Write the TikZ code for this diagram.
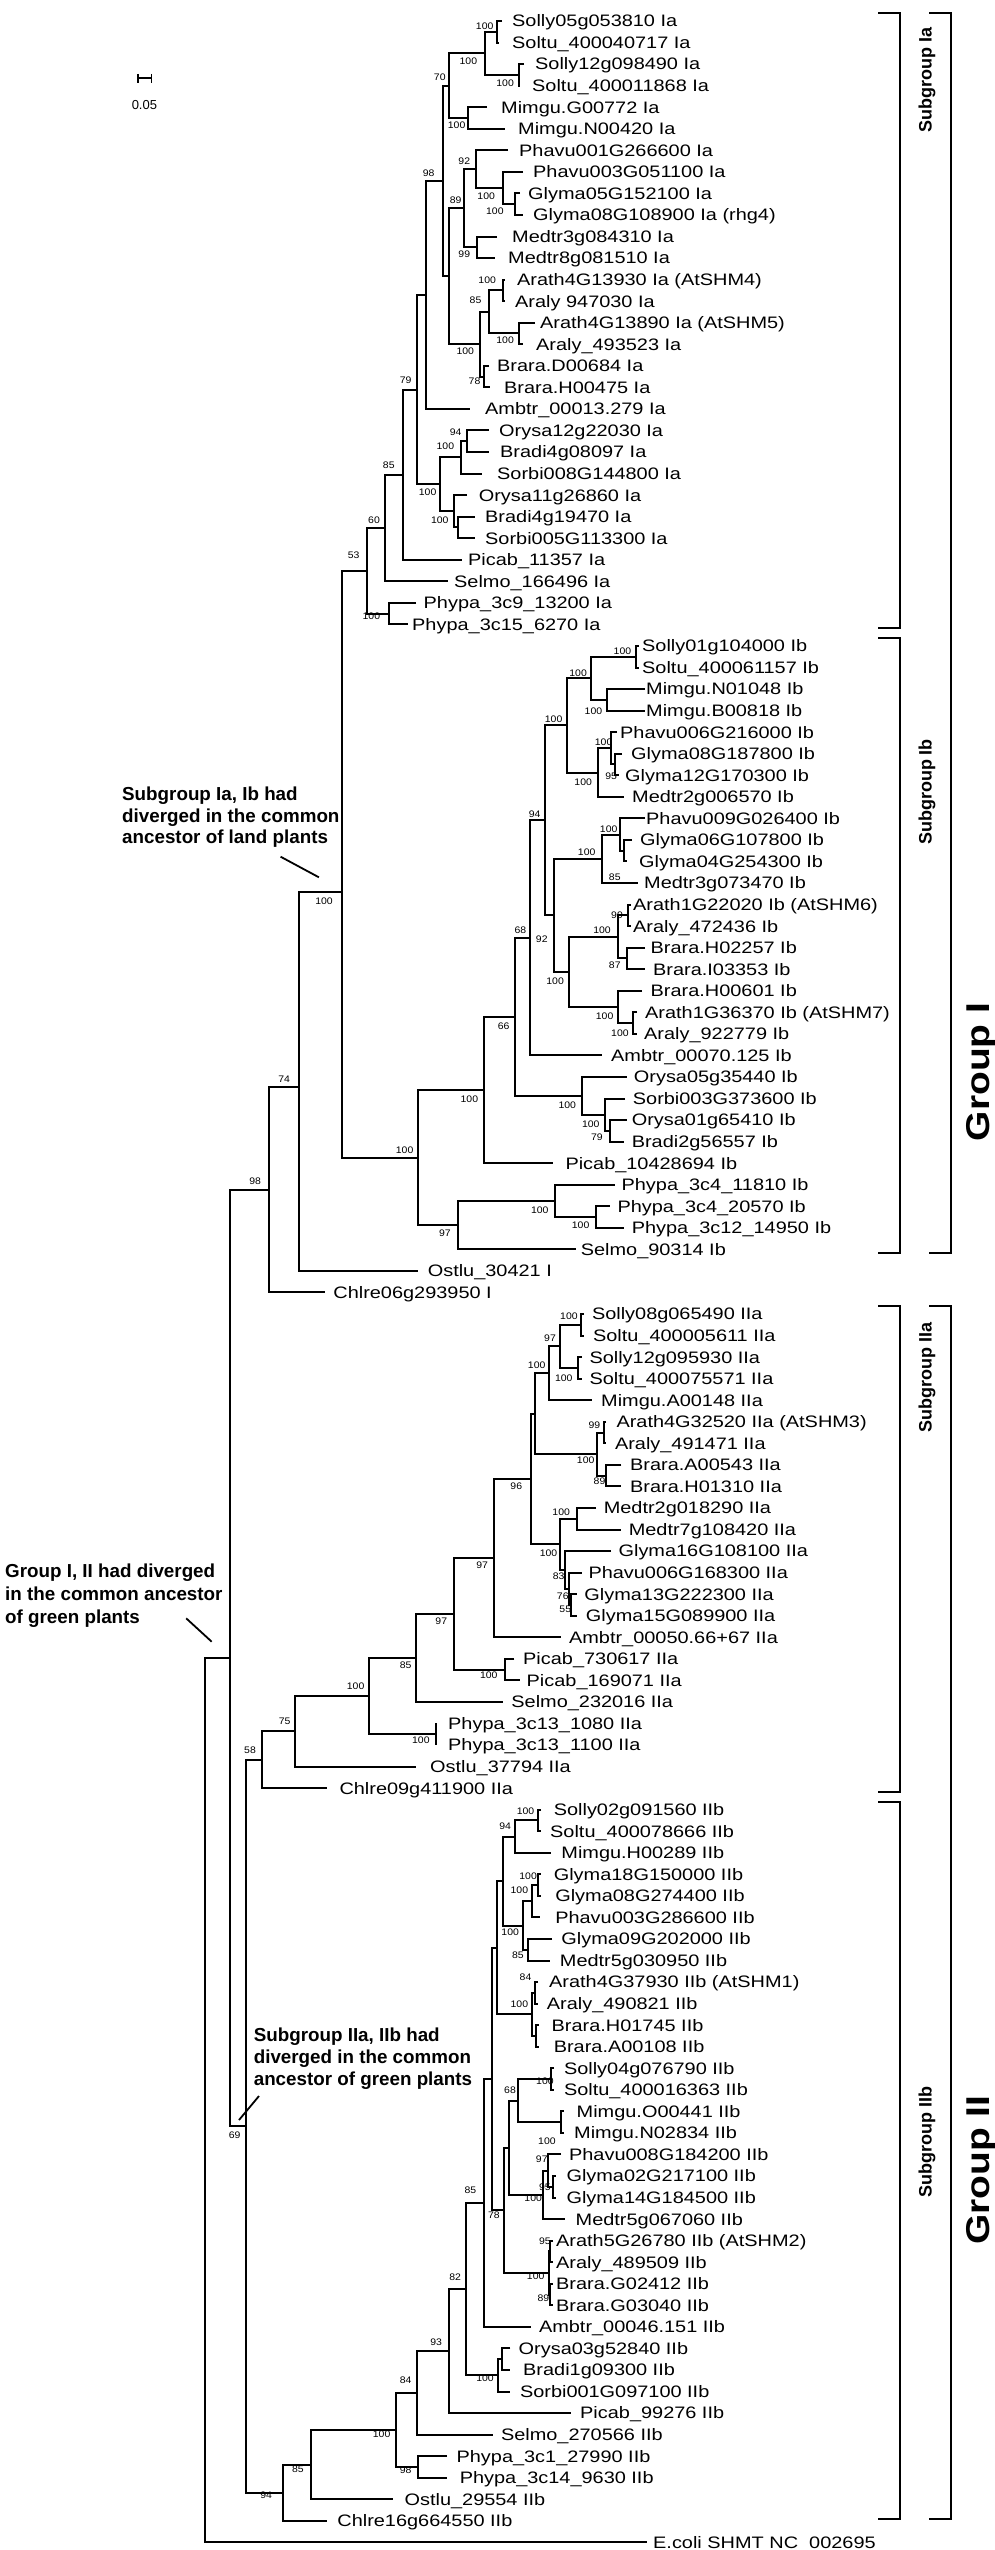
\documentclass[tikz,border=0pt]{standalone}
\usepackage{fontspec}
\setmainfont{Liberation Sans}
\newfontfamily\taxonfont{Liberation Sans}[FakeStretch=1.2]
\newfontfamily\bootfont{Liberation Sans}[FakeStretch=1.1]
\newfontfamily\groupfont{Liberation Sans}[FakeStretch=1.18]
\usetikzlibrary{calc}

\newcommand{\leafy}[1]{21+(#1-1)*21.55}
\newcommand{\addleaf}[5]{%
  \coordinate (#1) at (#3,{\leafy{#2}});
  \node[taxon] (#1t) at (#4,{\leafy{#2}}) {#5};}
\newcommand{\addclade}[4]{%
  \path let \p1=($(#3)!0.5!(#4)$) in coordinate (#1) at (#2pt,\y1);
  \draw[branch] (#3) -- (#3 -| #1) -- (#4 -| #1) -- (#4);}
\newcommand{\addcladeat}[5]{%
  \coordinate (#1) at (#2,#3);
  \draw[branch] (#4) -- (#4 -| #1) -- (#5 -| #1) -- (#5);}
\newcounter{bootno}
\newcommand{\bsv}[3]{\stepcounter{bootno}%
  \node[bootval] (b\arabic{bootno}) at (#1,#2) {#3};}

\begin{document}
\begin{tikzpicture}[%
    x=1pt, y=-1pt,
    branch/.style = {line width=2pt, line join=miter},
    taxon/.style = {anchor=base west, inner sep=0pt, yshift=-5.9pt, font=\taxonfont\fontsize{16.6}{18}\selectfont},
    bootval/.style = {inner sep=0pt, font=\bootfont\fontsize{9.5}{10}\selectfont},
    note/.style = {anchor=north west, inner sep=0pt, align=left, font=\bfseries\fontsize{18.8}{21.8}\selectfont},
    pointer/.style = {line width=1.8pt},
    brk/.style = {line width=2pt},
    sublabel/.style = {rotate=90, inner sep=0pt, font=\bfseries\fontsize{18}{19}\selectfont},
    grouplabel/.style = {rotate=90, inner sep=0pt, font=\groupfont\bfseries\fontsize{33}{35}\selectfont}%
  ]
  \useasboundingbox (0,0) rectangle (994,2550);
  \fill[white] (0,0) rectangle (994,2550);

  % scale bar
  \draw[branch] (137.8,78.3) -- (151.5,78.3);
  \draw[line width=1.4pt] (137.8,74) -- (137.8,82.7) (151.5,74) -- (151.5,82.7);
  \node[inner sep=0pt, font=\fontsize{13}{14}\selectfont] (scaletext) at (144.4,105) {0.05};

  % subgroup Ia
  \addleaf{l1}{1}{502}{512}{Solly05g053810 Ia}
  \addleaf{l2}{2}{499}{512}{Soltu\_400040717 Ia}
  \addclade{c1}{497}{l1}{l2}
  \addleaf{l3}{3}{524}{535}{Solly12g098490 Ia}
  \addleaf{l4}{4}{520}{532}{Soltu\_400011868 Ia}
  \addclade{c2}{519}{l3}{l4}
  \addclade{c3}{485}{c1}{c2}
  \addleaf{l5}{5}{487}{501}{Mimgu.G00772 Ia}
  \addleaf{l6}{6}{505}{518}{Mimgu.N00420 Ia}
  \addclade{c4}{468}{l5}{l6}
  \addclade{c5}{449}{c3}{c4}
  \addleaf{l7}{7}{508}{519}{Phavu001G266600 Ia}
  \addleaf{l8}{8}{523}{533}{Phavu003G051100 Ia}
  \addleaf{l9}{9}{520}{528}{Glyma05G152100 Ia}
  \addleaf{l10}{10}{523}{533}{Glyma08G108900 Ia (rhg4)}
  \addclade{c6}{515}{l9}{l10}
  \addclade{c7}{503}{l8}{c6}
  \addclade{c8}{476}{l7}{c7}
  \addleaf{l11}{11}{497}{512}{Medtr3g084310 Ia}
  \addleaf{l12}{12}{495}{508}{Medtr8g081510 Ia}
  \addclade{c9}{477}{l11}{l12}
  \addclade{c10}{464}{c8}{c9}
  \addleaf{l13}{13}{505}{517}{Arath4G13930 Ia (AtSHM4)}
  \addleaf{l14}{14}{505}{515}{Araly 947030 Ia}
  \addclade{c11}{502.5}{l13}{l14}
  \addleaf{l15}{15}{535}{540}{Arath4G13890 Ia (AtSHM5)}
  \addleaf{l16}{16}{523}{536}{Araly\_493523 Ia}
  \addclade{c12}{519}{l15}{l16}
  \addclade{c13}{489}{c11}{c12}
  \addleaf{l17}{17}{489}{497}{Brara.D00684 Ia}
  \addleaf{l18}{18}{490}{504}{Brara.H00475 Ia}
  \addclade{c14}{484}{l17}{l18}
  \addclade{c15}{480}{c13}{c14}
  \addclade{c16}{449}{c10}{c15}
  \addclade{c17}{443}{c5}{c16}
  \addleaf{l19}{19}{470}{485}{Ambtr\_00013.279 Ia}
  \addclade{c18}{426}{c17}{l19}
  \addleaf{l20}{20}{489}{499}{Orysa12g22030 Ia}
  \addleaf{l21}{21}{489}{500}{Bradi4g08097 Ia}
  \addclade{c19}{467}{l20}{l21}
  \addleaf{l22}{22}{482}{497}{Sorbi008G144800 Ia}
  \addclade{c20}{461}{c19}{l22}
  \addleaf{l23}{23}{467}{478.6}{Orysa11g26860 Ia}
  \addleaf{l24}{24}{474.5}{485}{Bradi4g19470 Ia}
  \addleaf{l25}{25}{474.5}{485}{Sorbi005G113300 Ia}
  \addclade{c21}{458}{l24}{l25}
  \addclade{c22}{454}{l23}{c21}
  \addclade{c23}{440}{c20}{c22}
  \addclade{c24}{417}{c18}{c23}
  \addleaf{l26}{26}{462}{468}{Picab\_11357 Ia}
  \addclade{c25}{403}{c24}{l26}
  \addleaf{l27}{27}{448}{454}{Selmo\_166496 Ia}
  \addclade{c26}{385}{c25}{l27}
  \addleaf{l28}{28}{416}{423.5}{Phypa\_3c9\_13200 Ia}
  \addleaf{l29}{29}{408}{412}{Phypa\_3c15\_6270 Ia}
  \addclade{c27}{389}{l28}{l29}
  \addclade{c28}{367}{c26}{c27}

  % subgroup Ib
  \addleaf{l30}{30}{639}{642}{Solly01g104000 Ib}
  \addleaf{l31}{31}{639}{642}{Soltu\_400061157 Ib}
  \addclade{c29}{636}{l30}{l31}
  \addleaf{l32}{32}{645}{646}{Mimgu.N01048 Ib}
  \addleaf{l33}{33}{645}{646}{Mimgu.B00818 Ib}
  \addclade{c30}{607}{l32}{l33}
  \addclade{c31}{591}{c29}{c30}
  \addleaf{l34}{34}{617}{620}{Phavu006G216000 Ib}
  \addleaf{l35}{35}{622}{631}{Glyma08G187800 Ib}
  \addleaf{l36}{36}{619}{625}{Glyma12G170300 Ib}
  \addclade{c32}{615}{l35}{l36}
  \addclade{c33}{611}{l34}{c32}
  \addleaf{l37}{37}{623.5}{632}{Medtr2g006570 Ib}
  \addclade{c34}{598}{c33}{l37}
  \addclade{c35}{567}{c31}{c34}
  \addleaf{l38}{38}{645}{646}{Phavu009G026400 Ib}
  \addleaf{l39}{39}{632}{640}{Glyma06G107800 Ib}
  \addleaf{l40}{40}{627}{639}{Glyma04G254300 Ib}
  \addclade{c36}{623.5}{l39}{l40}
  \addclade{c37}{620}{l38}{c36}
  \addleaf{l41}{41}{638}{644}{Medtr3g073470 Ib}
  \addclade{c38}{602}{c37}{l41}
  \addleaf{l42}{42}{631}{633}{Arath1G22020 Ib (AtSHM6)}
  \addleaf{l43}{43}{631}{633}{Araly\_472436 Ib}
  \addclade{c39}{628}{l42}{l43}
  \addleaf{l44}{44}{645}{650.5}{Brara.H02257 Ib}
  \addleaf{l45}{45}{645}{653}{Brara.I03353 Ib}
  \addclade{c40}{626.5}{l44}{l45}
  \addclade{c41}{618}{c39}{c40}
  \addleaf{l46}{46}{642}{650.5}{Brara.H00601 Ib}
  \addleaf{l47}{47}{637}{645}{Arath1G36370 Ib (AtSHM7)}
  \addleaf{l48}{48}{637}{644}{Araly\_922779 Ib}
  \addclade{c42}{632.7}{l47}{l48}
  \addclade{c43}{618}{l46}{c42}
  \addclade{c44}{569}{c41}{c43}
  \addclade{c45}{553.6}{c38}{c44}
  \addclade{c46}{545}{c35}{c45}
  \addleaf{l49}{49}{602}{611}{Ambtr\_00070.125 Ib}
  \addclade{c47}{529.6}{c46}{l49}
  \addleaf{l50}{50}{626.5}{633.7}{Orysa05g35440 Ib}
  \addleaf{l51}{51}{625}{632.7}{Sorbi003G373600 Ib}
  \addleaf{l52}{52}{626.5}{631.6}{Orysa01g65410 Ib}
  \addleaf{l53}{53}{623.5}{631.6}{Bradi2g56557 Ib}
  \addclade{c48}{609.7}{l52}{l53}
  \addclade{c49}{604.6}{l51}{c48}
  \addclade{c50}{581.6}{l50}{c49}
  \addclade{c51}{515.3}{c47}{c50}
  \addleaf{l54}{54}{552.6}{565.3}{Picab\_10428694 Ib}
  \addclade{c52}{483.7}{c51}{l54}
  \addleaf{l55}{55}{614.8}{621.4}{Phypa\_3c4\_11810 Ib}
  \addleaf{l56}{56}{609.7}{617.3}{Phypa\_3c4\_20570 Ib}
  \addleaf{l57}{57}{623.5}{631.6}{Phypa\_3c12\_14950 Ib}
  \addclade{c53}{596}{l56}{l57}
  \addclade{c54}{555}{l55}{c53}
  \addleaf{l58}{58}{575.5}{580.6}{Selmo\_90314 Ib}
  \addclade{c55}{457.7}{c54}{l58}
  \addclade{c56}{418.4}{c52}{c55}
  \addcladeat{c57}{341.8}{892}{c28}{c56}
  \addleaf{l59}{59}{418.4}{427.6}{Ostlu\_30421 I}
  \addcladeat{c58}{298.5}{1087}{c57}{l59}
  \addleaf{l60}{60}{325}{333.2}{Chlre06g293950 I}
  \addclade{c59}{269}{c58}{l60}

  % subgroup IIa
  \addleaf{l61}{61}{584}{591.8}{Solly08g065490 IIa}
  \addleaf{l62}{62}{584}{592.9}{Soltu\_400005611 IIa}
  \addclade{c60}{580.6}{l61}{l62}
  \addleaf{l63}{63}{582}{589.3}{Solly12g095930 IIa}
  \addleaf{l64}{64}{582}{589.3}{Soltu\_400075571 IIa}
  \addclade{c61}{578}{l63}{l64}
  \addclade{c62}{560.2}{c60}{c61}
  \addleaf{l65}{65}{591.8}{601}{Mimgu.A00148 IIa}
  \addclade{c63}{548.5}{c62}{l65}
  \addleaf{l66}{66}{606}{616.3}{Arath4G32520 IIa (AtSHM3)}
  \addleaf{l67}{67}{606}{614.8}{Araly\_491471 IIa}
  \addclade{c64}{603.6}{l66}{l67}
  \addleaf{l68}{68}{621.4}{630}{Brara.A00543 IIa}
  \addleaf{l69}{69}{621.4}{630}{Brara.H01310 IIa}
  \addclade{c65}{606}{l68}{l69}
  \addclade{c66}{597}{c64}{c65}
  \addclade{c67}{534.7}{c63}{c66}
  \addleaf{l70}{70}{596}{603.6}{Medtr2g018290 IIa}
  \addleaf{l71}{71}{621.4}{628.6}{Medtr7g108420 IIa}
  \addclade{c68}{576.5}{l70}{l71}
  \addleaf{l72}{72}{611.2}{618.4}{Glyma16G108100 IIa}
  \addleaf{l73}{73}{581.6}{588.3}{Phavu006G168300 IIa}
  \addleaf{l74}{74}{576.5}{584.2}{Glyma13G222300 IIa}
  \addleaf{l75}{75}{576.5}{585.7}{Glyma15G089900 IIa}
  \addclade{c69}{571.4}{l74}{l75}
  \addclade{c70}{569.4}{l73}{c69}
  \addclade{c71}{565.3}{l72}{c70}
  \addclade{c72}{560.2}{c68}{c71}
  \addclade{c73}{530.6}{c67}{c72}
  \addleaf{l76}{76}{561.2}{568.9}{Ambtr\_00050.66+67 IIa}
  \addclade{c74}{493.9}{c73}{l76}
  \addleaf{l77}{77}{514.3}{523}{Picab\_730617 IIa}
  \addleaf{l78}{78}{520.4}{526.5}{Picab\_169071 IIa}
  \addclade{c75}{505.1}{l77}{l78}
  \addclade{c76}{454}{c74}{c75}
  \addleaf{l79}{79}{502.6}{511.2}{Selmo\_232016 IIa}
  \addclade{c77}{415.8}{c76}{l79}
  \addleaf{l80}{80}{436.2}{448}{Phypa\_3c13\_1080 IIa}
  \addleaf{l81}{81}{436.2}{448}{Phypa\_3c13\_1100 IIa}
  \addclade{c78}{436.2}{l80}{l81}
  \addclade{c79}{368.9}{c77}{c78}
  \addleaf{l82}{82}{415.8}{430}{Ostlu\_37794 IIa}
  \addclade{c80}{294.9}{c79}{l82}
  \addleaf{l83}{83}{326.5}{339.3}{Chlre09g411900 IIa}
  \addclade{c81}{261.7}{c80}{l83}

  % subgroup IIb
  \addleaf{l84}{84}{541}{553.6}{Solly02g091560 IIb}
  \addleaf{l85}{85}{541}{550}{Soltu\_400078666 IIb}
  \addclade{c82}{538.3}{l84}{l85}
  \addleaf{l86}{86}{551}{561.2}{Mimgu.H00289 IIb}
  \addclade{c83}{515.3}{c82}{l86}
  \addleaf{l87}{87}{540.8}{553.6}{Glyma18G150000 IIb}
  \addleaf{l88}{88}{540.8}{555.1}{Glyma08G274400 IIb}
  \addclade{c84}{538.3}{l87}{l88}
  \addleaf{l89}{89}{540}{555.1}{Phavu003G286600 IIb}
  \addclade{c85}{531.6}{c84}{l89}
  \addleaf{l90}{90}{552}{561.2}{Glyma09G202000 IIb}
  \addleaf{l91}{91}{550}{559.7}{Medtr5g030950 IIb}
  \addclade{c86}{528}{l90}{l91}
  \addclade{c87}{523}{c85}{c86}
  \addclade{c88}{502.6}{c83}{c87}
  \addleaf{l92}{92}{538}{549}{Arath4G37930 IIb (AtSHM1)}
  \addleaf{l93}{93}{538}{546.7}{Araly\_490821 IIb}
  \addclade{c89}{534.7}{l92}{l93}
  \addleaf{l94}{94}{539}{551.5}{Brara.H01745 IIb}
  \addleaf{l95}{95}{539}{553.6}{Brara.A00108 IIb}
  \addclade{c90}{535.7}{l94}{l95}
  \addclade{c91}{531.6}{c89}{c90}
  \addclade{c92}{497.4}{c88}{c91}
  \addleaf{l96}{96}{554}{563.8}{Solly04g076790 IIb}
  \addleaf{l97}{97}{554}{563.8}{Soltu\_400016363 IIb}
  \addclade{c93}{551}{l96}{l97}
  \addleaf{l98}{98}{563.8}{576.5}{Mimgu.O00441 IIb}
  \addleaf{l99}{99}{563.8}{574}{Mimgu.N02834 IIb}
  \addclade{c94}{561.2}{l98}{l99}
  \addclade{c95}{517.9}{c93}{c94}
  \addleaf{l100}{100}{561.2}{568.9}{Phavu008G184200 IIb}
  \addleaf{l101}{101}{555.6}{566.3}{Glyma02G217100 IIb}
  \addleaf{l102}{102}{555.6}{566.3}{Glyma14G184500 IIb}
  \addclade{c96}{552.6}{l101}{l102}
  \addclade{c97}{548}{l100}{c96}
  \addleaf{l103}{103}{565.3}{575.5}{Medtr5g067060 IIb}
  \addclade{c98}{543.4}{c97}{l103}
  \addclade{c99}{509.2}{c95}{c98}
  \addleaf{l104}{104}{553}{556}{Arath5G26780 IIb (AtSHM2)}
  \addleaf{l105}{105}{553}{556}{Araly\_489509 IIb}
  \addclade{c100}{550}{l104}{l105}
  \addleaf{l106}{106}{553}{556}{Brara.G02412 IIb}
  \addleaf{l107}{107}{553}{556}{Brara.G03040 IIb}
  \addclade{c101}{550}{l106}{l107}
  \addclade{c102}{548.5}{c100}{c101}
  \addclade{c103}{504}{c99}{c102}
  \addclade{c104}{492.3}{c92}{c103}
  \addleaf{l108}{108}{531.2}{538.8}{Ambtr\_00046.151 IIb}
  \addclade{c105}{483.7}{c104}{l108}
  \addleaf{l109}{109}{510.3}{518.5}{Orysa03g52840 IIb}
  \addleaf{l110}{110}{510.3}{523}{Bradi1g09300 IIb}
  \addclade{c106}{502}{l109}{l110}
  \addleaf{l111}{111}{510.3}{519.8}{Sorbi001G097100 IIb}
  \addclade{c107}{497.6}{c106}{l111}
  \addclade{c108}{466}{c105}{c107}
  \addleaf{l112}{112}{570.5}{580}{Picab\_99276 IIb}
  \addclade{c109}{448.8}{c108}{l112}
  \addleaf{l113}{113}{493.2}{500.8}{Selmo\_270566 IIb}
  \addclade{c110}{417.1}{c109}{l113}
  \addleaf{l114}{114}{447}{456.4}{Phypa\_3c1\_27990 IIb}
  \addleaf{l115}{115}{447}{459.6}{Phypa\_3c14\_9630 IIb}
  \addclade{c111}{418.4}{l114}{l115}
  \addclade{c112}{396.2}{c110}{c111}
  \addleaf{l116}{116}{393}{404.4}{Ostlu\_29554 IIb}
  \addclade{c113}{310.6}{c112}{l116}
  \addleaf{l117}{117}{326.5}{337.2}{Chlre16g664550 IIb}
  \addclade{c114}{283.4}{c113}{l117}
  \addclade{c115}{246.4}{c81}{c114}
  \addclade{c116}{229.6}{c59}{c115}
  \addleaf{l118}{118}{646.6}{653}{E.coli SHMT NC\_002695}
  \addclade{c117}{205}{c116}{l118}

  % bootstrap values
  \bsv{484.7}{26.7}{100}   \bsv{505.1}{83.3}{100}  \bsv{468.4}{61.7}{100}
  \bsv{439.8}{77.3}{70}    \bsv{456.6}{125}{100}   \bsv{428.6}{173.3}{98}
  \bsv{464.3}{161.7}{92}   \bsv{494.9}{211.7}{100} \bsv{486.2}{196.7}{100}
  \bsv{455.6}{200}{89}     \bsv{464.3}{254.3}{99}  \bsv{487.2}{280}{100}
  \bsv{475.5}{300.7}{85}   \bsv{505.1}{340}{100}   \bsv{465.3}{351.7}{100}
  \bsv{474.5}{381.7}{78}   \bsv{405.6}{380}{79}    \bsv{455.6}{432.3}{94}
  \bsv{445.4}{446.7}{100}  \bsv{388.8}{465}{85}    \bsv{427.6}{492.7}{100}
  \bsv{439.8}{520}{100}    \bsv{374}{520}{60}      \bsv{353.6}{555}{53}
  \bsv{371.4}{616.7}{100}
  \bsv{622.4}{651.7}{100}  \bsv{578.1}{673.3}{100} \bsv{593.4}{711.7}{100}
  \bsv{553.6}{719.3}{100}  \bsv{603.6}{742.7}{100} \bsv{611.2}{776}{95}
  \bsv{583.2}{782.7}{100}  \bsv{534.7}{814}{94}    \bsv{608.7}{829}{100}
  \bsv{586.7}{852.3}{100}  \bsv{614.8}{877.3}{85}  \bsv{324}{901.7}{100}
  \bsv{617}{915}{99}       \bsv{602}{930.7}{100}   \bsv{541.8}{939.3}{92}
  \bsv{520.4}{930.7}{68}   \bsv{614.8}{965}{87}    \bsv{555.1}{981.7}{100}
  \bsv{604.6}{1016.7}{100} \bsv{503.6}{1026.7}{66} \bsv{619.9}{1033.3}{100}
  \bsv{284.2}{1079.3}{74}  \bsv{469.4}{1099.3}{100} \bsv{567.3}{1105}{100}
  \bsv{590.8}{1124}{100}   \bsv{596.9}{1137.3}{79} \bsv{404.6}{1150.7}{100}
  \bsv{255.1}{1181.7}{98}  \bsv{539.8}{1210}{100}  \bsv{580.6}{1225.7}{100}
  \bsv{444.9}{1233.3}{97}
  \bsv{568.9}{1316.7}{100} \bsv{550}{1338.3}{97}   \bsv{536.7}{1365}{100}
  \bsv{563.8}{1378.3}{100} \bsv{594.4}{1425}{99}   \bsv{585.7}{1460}{100}
  \bsv{599.5}{1481.7}{89}  \bsv{516.3}{1486.7}{96} \bsv{561.2}{1512.7}{100}
  \bsv{548.5}{1553.3}{100} \bsv{482.1}{1565}{97}   \bsv{558.7}{1576.7}{83}
  \bsv{562.8}{1596}{76}    \bsv{565.3}{1609.3}{55} \bsv{441.3}{1621.7}{97}
  \bsv{405.6}{1665}{85}    \bsv{488.8}{1675}{100}  \bsv{355.6}{1686}{100}
  \bsv{420.9}{1740}{100}   \bsv{284.7}{1721.7}{75} \bsv{250}{1750.7}{58}
  \bsv{525.5}{1811}{100}   \bsv{505.1}{1826.7}{94} \bsv{528.1}{1876}{100}
  \bsv{519.4}{1890.7}{100} \bsv{510.2}{1932.7}{100} \bsv{517.9}{1955}{85}
  \bsv{525.5}{1977.3}{84}  \bsv{519.4}{2004.3}{100} \bsv{544.9}{2081.7}{100}
  \bsv{510}{2090}{68}      \bsv{546.9}{2141.7}{100} \bsv{541.8}{2159.3}{97}
  \bsv{544.9}{2187.3}{95}  \bsv{533.2}{2198.3}{100} \bsv{470.4}{2190}{85}
  \bsv{493.9}{2215}{78}    \bsv{544.9}{2241.7}{95} \bsv{535.7}{2276.7}{100}
  \bsv{543.4}{2298.3}{89}  \bsv{455.1}{2277.3}{82} \bsv{234.7}{2135}{69}
  \bsv{436.1}{2341.7}{93}  \bsv{485}{2378.3}{100}  \bsv{405.7}{2380}{84}
  \bsv{381.6}{2434}{100}   \bsv{405.7}{2470}{98}   \bsv{297.9}{2469.3}{85}
  \bsv{266.2}{2495}{94}

  % notes
  \node[note] (noteIab) at (122,786.5) {Subgroup Ia, Ib had\\diverged in the common\\ancestor of land plants};
  \coordinate (pIab1) at (280.6,856.7);
  \coordinate (pIab2) at (318.9,877.3);
  \draw[pointer] (pIab1) -- (pIab2);
  \node[note, font=\bfseries\fontsize{18.8}{23.3}\selectfont] (noteIII) at (5,1563.2) {Group I, II had diverged\\in the common ancestor\\of green plants};
  \coordinate (pIII1) at (186.2,1618.3);
  \coordinate (pIII2) at (211.7,1641.7);
  \draw[pointer] (pIII1) -- (pIII2);
  \node[note, font=\bfseries\fontsize{18.8}{22.2}\selectfont] (noteIIab) at (253.6,2027.2) {Subgroup IIa, IIb had\\diverged in the common\\ancestor of green plants};
  \coordinate (pIIab1) at (259,2096);
  \coordinate (pIIab2) at (239,2120);
  \draw[pointer] (pIIab1) -- (pIIab2);

  % brackets
  \draw[brk] (878,13) -- (900,13) -- (900,628) -- (878,628);
  \draw[brk] (878,638) -- (900,638) -- (900,1253) -- (878,1253);
  \draw[brk] (878,1306) -- (900,1306) -- (900,1792) -- (878,1792);
  \draw[brk] (878,1802) -- (900,1802) -- (900,2519) -- (878,2519);
  \draw[brk] (929,13) -- (951,13) -- (951,1253) -- (929,1253);
  \draw[brk] (929,1306) -- (951,1306) -- (951,2519) -- (929,2519);
  \node[sublabel] (sIa) at (927,80) {Subgroup Ia};
  \node[sublabel] (sIb) at (927,792) {Subgroup Ib};
  \node[sublabel] (sIIa) at (927,1377) {Subgroup IIa};
  \node[sublabel] (sIIb) at (927,2142) {Subgroup IIb};
  \node[grouplabel] (gI) at (981,1072) {Group I};
  \node[grouplabel] (gII) at (981,2170) {Group II};
\end{tikzpicture}
\end{document}
